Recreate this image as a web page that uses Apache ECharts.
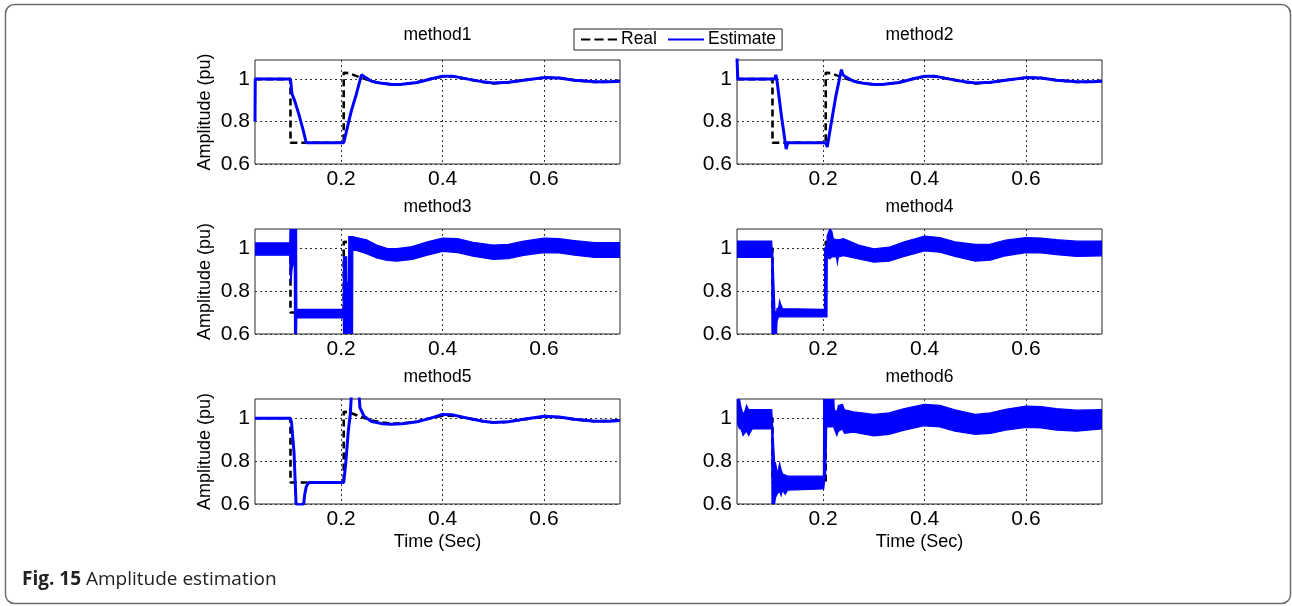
<!DOCTYPE html>
<html>
<head>
<meta charset="utf-8">
<script src="https://cdn.jsdelivr.net/npm/echarts@6/dist/echarts.min.js"></script>
<style>
html,body{margin:0;padding:0;background:#fff;}
#chart{width:1292px;height:606px;}
</style>
</head>
<body>
<div id="chart"></div>
<script>
// ---------- data ----------
const titles = ['method1','method2','method3','method4','method5','method6'];
const xTicks = [0.2, 0.4, 0.6];
const yTicks = [0.6, 0.8, 1];

const realT = [0.03, 0.1, 0.1, 0.205, 0.205, 0.215, 0.235, 0.26, 0.28, 0.3, 0.32, 0.35, 0.38, 0.4, 0.42, 0.45, 0.48, 0.5, 0.53, 0.56, 0.6, 0.63, 0.66, 0.7, 0.73, 0.75];
const realV = [1, 1, 0.7, 0.7, 1.03, 1.028, 1.01, 0.99, 0.98, 0.975, 0.975, 0.985, 1.003, 1.012, 1.012, 1.0, 0.986, 0.98, 0.984, 0.995, 1.007, 1.005, 0.995, 0.986, 0.988, 0.992];

const m1T = [0.03, 0.0305, 0.1, 0.103, 0.108, 0.117, 0.125, 0.131, 0.205, 0.21, 0.22, 0.23, 0.24, 0.245, 0.26, 0.28, 0.3, 0.32, 0.35, 0.38, 0.4, 0.42, 0.45, 0.48, 0.5, 0.53, 0.56, 0.6, 0.63, 0.66, 0.7, 0.73, 0.75];
const m1V = [0.8, 1.0, 1.0, 0.93, 0.9, 0.83, 0.76, 0.7, 0.7, 0.75, 0.85, 0.93, 1.02, 1.012, 0.99, 0.98, 0.975, 0.976, 0.984, 1.003, 1.013, 1.014, 1.0, 0.987, 0.982, 0.985, 0.995, 1.007, 1.005, 0.995, 0.987, 0.988, 0.99];

const m2T = [0.03, 0.0315, 0.104, 0.1067, 0.109, 0.118, 0.127, 0.13, 0.205, 0.208, 0.215, 0.225, 0.232, 0.236, 0.239, 0.245, 0.26, 0.28, 0.3, 0.32, 0.35, 0.38, 0.4, 0.42, 0.45, 0.48, 0.5, 0.53, 0.56, 0.6, 0.63, 0.66, 0.7, 0.73, 0.75];
const m2V = [1.1, 1.0, 1.0, 1.02, 0.99, 0.82, 0.67, 0.7, 0.7, 0.68, 0.78, 0.92, 1.0, 1.045, 1.02, 1.01, 0.99, 0.98, 0.975, 0.976, 0.984, 1.003, 1.013, 1.014, 1.0, 0.987, 0.982, 0.985, 0.995, 1.007, 1.005, 0.995, 0.987, 0.988, 0.99];

const m5T = [0.03, 0.1, 0.102, 0.107, 0.111, 0.118, 0.126, 0.128, 0.131, 0.136, 0.205, 0.209, 0.214, 0.218, 0.221, 0.234, 0.237, 0.245, 0.26, 0.28, 0.3, 0.32, 0.35, 0.38, 0.4, 0.42, 0.45, 0.48, 0.5, 0.53, 0.56, 0.6, 0.63, 0.66, 0.7, 0.73, 0.75];
const m5V = [1.0, 1.0, 0.98, 0.84, 0.6, 0.595, 0.6, 0.643, 0.68, 0.7, 0.7, 0.79, 0.94, 1.02, 1.15, 1.15, 1.05, 1.01, 0.985, 0.975, 0.972, 0.974, 0.984, 1.003, 1.018, 1.016, 1.0, 0.986, 0.98, 0.984, 0.995, 1.009, 1.006, 0.996, 0.986, 0.986, 0.99];

const m3T  = [0.03, 0.0985, 0.099, 0.101, 0.103, 0.1075, 0.108, 0.112, 0.1125, 0.204, 0.2046, 0.211, 0.2115, 0.2145, 0.215, 0.2225, 0.223, 0.23, 0.25, 0.27, 0.29, 0.31, 0.34, 0.37, 0.4, 0.43, 0.46, 0.5, 0.53, 0.56, 0.6, 0.63, 0.66, 0.7, 0.75];
const m3Lo = [0.968, 0.968, 0.9, 0.84, 0.9, 0.95, 0.55, 0.55, 0.675, 0.675, 0.55, 0.55, 0.55, 0.55, 0.55, 0.55, 0.99, 0.99, 0.975, 0.955, 0.943, 0.94, 0.948, 0.968, 0.985, 0.98, 0.963, 0.948, 0.952, 0.967, 0.98, 0.978, 0.968, 0.957, 0.958];
const m3Hi = [1.025, 1.025, 1.12, 1.12, 1.12, 1.12, 1.12, 1.12, 0.715, 0.715, 0.96, 0.96, 0.84, 0.84, 1.055, 1.055, 1.055, 1.05, 1.04, 1.015, 1.0, 0.998, 1.008, 1.03, 1.048, 1.045, 1.028, 1.015, 1.018, 1.033, 1.047, 1.045, 1.036, 1.026, 1.027];

const m4T  = [0.03, 0.0985, 0.099, 0.1005, 0.105, 0.108, 0.109, 0.112, 0.114, 0.116, 0.12, 0.2025, 0.203, 0.2075, 0.208, 0.213, 0.217, 0.22, 0.226, 0.228, 0.23, 0.24, 0.27, 0.3, 0.33, 0.36, 0.4, 0.43, 0.46, 0.5, 0.53, 0.56, 0.6, 0.63, 0.66, 0.7, 0.75];
const m4Lo = [0.958, 0.958, 0.55, 0.55, 0.55, 0.6, 0.66, 0.68, 0.68, 0.68, 0.68, 0.68, 0.68, 0.68, 0.96, 0.95, 0.96, 0.96, 0.96, 0.93, 0.96, 0.965, 0.95, 0.935, 0.94, 0.962, 0.988, 0.982, 0.962, 0.94, 0.945, 0.965, 0.98, 0.978, 0.97, 0.962, 0.965];
const m4Hi = [1.034, 1.034, 1.0, 0.98, 0.7, 0.7, 0.72, 0.72, 0.755, 0.74, 0.718, 0.715, 1.0, 1.02, 1.06, 1.09, 1.08, 1.045, 1.04, 1.04, 1.04, 1.045, 1.015, 0.997, 1.005, 1.03, 1.057, 1.05, 1.03, 1.018, 1.02, 1.038, 1.05, 1.048, 1.04, 1.033, 1.034];

const m6T  = [0.03, 0.035, 0.038, 0.042, 0.045, 0.049, 0.053, 0.06, 0.0985, 0.099, 0.104, 0.106, 0.11, 0.114, 0.117, 0.12, 0.125, 0.13, 0.2005, 0.201, 0.205, 0.207, 0.221, 0.222, 0.227, 0.23, 0.238, 0.242, 0.26, 0.3, 0.33, 0.36, 0.4, 0.43, 0.46, 0.5, 0.53, 0.56, 0.6, 0.63, 0.66, 0.7, 0.75];
const m6Lo = [0.98, 0.95, 0.95, 0.92, 0.93, 0.94, 0.92, 0.95, 0.95, 0.55, 0.55, 0.63, 0.65, 0.66, 0.64, 0.665, 0.645, 0.665, 0.67, 0.67, 0.75, 0.96, 0.96, 0.95, 0.92, 0.94, 0.95, 0.93, 0.935, 0.918, 0.925, 0.945, 0.965, 0.96, 0.94, 0.925, 0.93, 0.945, 0.957, 0.955, 0.945, 0.94, 0.95];
const m6Hi = [1.12, 1.12, 1.05, 1.02, 1.03, 1.06, 1.04, 1.04, 1.04, 1.02, 0.8, 0.79, 0.74, 0.79, 0.76, 0.74, 0.735, 0.73, 0.73, 1.12, 1.12, 1.12, 1.12, 1.04, 1.03, 1.06, 1.065, 1.04, 1.03, 1.018, 1.025, 1.045, 1.065, 1.06, 1.04, 1.018, 1.025, 1.042, 1.057, 1.055, 1.045, 1.038, 1.04];

// ---------- chart ----------
const FONT = '"Liberation Sans", Arial, Helvetica, sans-serif';
const BLUE = '#0000ff';
const gridBoxes = [
  {left:255, top:60,  width:365, height:104},
  {left:737, top:60,  width:365, height:104},
  {left:255, top:229, width:365, height:105},
  {left:737, top:229, width:365, height:105},
  {left:255, top:399, width:365, height:105},
  {left:737, top:399, width:365, height:105}
];

const zip = (t, v) => t.map((x, i) => [x, v[i]]);

function bandRender(tArr, loArr, hiArr) {
  return function (params, api) {
    if (params.dataIndex !== 0) return null;
    const pts = [];
    for (let i = 0; i < tArr.length; i++) pts.push(api.coord([tArr[i], hiArr[i]]));
    for (let i = tArr.length - 1; i >= 0; i--) pts.push(api.coord([tArr[i], loArr[i]]));
    const cs = params.coordSys;
    const clipped = echarts.graphic.clipPointsByRect(pts, {x: cs.x, y: cs.y, width: cs.width, height: cs.height});
    return {
      type: 'polygon',
      shape: {points: clipped},
      style: {fill: BLUE, stroke: BLUE, lineWidth: 1.2}
    };
  };
}

const grids = gridBoxes.map(g => Object.assign({}, g, {
  show: true, borderColor: '#262626', borderWidth: 1, backgroundColor: '#fff',
  containLabel: false, outerBoundsMode: 'none'
}));

const fmt = v => String(+(+v).toFixed(2));

const xAxes = gridBoxes.map((g, i) => ({
  type: 'value', gridIndex: i, min: 0.03, max: 0.75,
  axisLine: {show: false},
  axisTick: {show: false, customValues: xTicks},
  axisLabel: {customValues: xTicks, fontSize: 21, color: '#000', fontFamily: FONT, margin: 5, formatter: fmt},
  splitLine: {show: true, lineStyle: {color: '#333', width: 1, type: [2, 3]}},
  name: i >= 4 ? 'Time (Sec)' : '',
  nameLocation: 'middle', nameGap: 29,
  nameTextStyle: {fontSize: 18, color: '#000', fontFamily: FONT}
}));

const yAxes = gridBoxes.map((g, i) => ({
  type: 'value', gridIndex: i, min: 0.6, max: 1.09,
  axisLine: {show: false},
  axisTick: {show: false, customValues: yTicks},
  axisLabel: {customValues: yTicks, fontSize: 21, color: '#000', fontFamily: FONT, margin: 5, formatter: fmt},
  splitLine: {show: true, lineStyle: {color: '#333', width: 1, type: [2, 3]}},
  name: (i % 2 === 0) ? 'Amplitude (pu)' : '',
  nameLocation: 'middle', nameGap: 41, nameRotate: 90,
  nameTextStyle: {fontSize: 18, color: '#000', fontFamily: FONT}
}));

const realStyle = {color: '#000', width: 2.6, type: [7, 4]};
const series = [];
for (let i = 0; i < 6; i++) {
  series.push({
    name: 'Real', type: 'line', xAxisIndex: i, yAxisIndex: i,
    data: zip(realT, realV), showSymbol: false, symbol: 'none',
    lineStyle: realStyle, itemStyle: {color: '#000'}, z: 2, animation: false
  });
}
const lineEst = {0: [m1T, m1V], 1: [m2T, m2V], 4: [m5T, m5V]};
const bandEst = {2: [m3T, m3Lo, m3Hi], 3: [m4T, m4Lo, m4Hi], 5: [m6T, m6Lo, m6Hi]};
for (let i = 0; i < 6; i++) {
  if (lineEst[i]) {
    const [t, v] = lineEst[i];
    series.push({
      name: 'Estimate', type: 'line', xAxisIndex: i, yAxisIndex: i,
      data: zip(t, v), showSymbol: false, symbol: 'none', clip: true,
      lineStyle: {color: BLUE, width: 3}, itemStyle: {color: BLUE}, z: 3, animation: false
    });
  } else {
    const [t, lo, hi] = bandEst[i];
    series.push({
      name: 'Estimate', type: 'custom', xAxisIndex: i, yAxisIndex: i,
      data: t.map((x, k) => [x, lo[k], hi[k]]),
      encode: {x: 0, y: [1, 2]},
      renderItem: bandRender(t, lo, hi), clip: true, silent: true,
      itemStyle: {color: BLUE}, z: 3, animation: false
    });
  }
}

const titleGraphics = gridBoxes.map((g, i) => ({
  type: 'text', x: g.left + g.width / 2, y: g.top - (i < 2 ? 25 : 22),
  style: {text: titles[i], align: 'center', verticalAlign: 'middle',
    fontSize: 17.5, fontFamily: FONT, fill: '#000'}
}));

const option = {
  animation: false,
  backgroundColor: '#fff',
  grid: grids,
  xAxis: xAxes,
  yAxis: yAxes,
  legend: {
    data: [
      {name: 'Real', icon: 'path://M0,0H9V2H0Z M13,0H22V2H13Z M26,0H35V2H26Z'},
      {name: 'Estimate', icon: 'path://M0,0H35V2H0Z'}
    ],
    left: 574, top: 29,
    orient: 'horizontal',
    itemWidth: 36, itemHeight: 3, itemGap: 11,
    padding: [1, 6, 1, 7],
    borderColor: '#222', borderWidth: 1, backgroundColor: '#fff',
    selectedMode: false,
    itemStyle: {borderWidth: 0},
    textStyle: {fontSize: 17.5, color: '#000', fontFamily: FONT, lineHeight: 19, padding: [0, 0, 0, -1]}
  },
  graphic: [
    {type: 'rect', shape: {x: 5.5, y: 4.5, width: 1285, height: 599, r: 9},
     style: {fill: 'none', stroke: '#6b6b6b', lineWidth: 1.5}, z: -10},
    {type: 'text', x: 22, y: 580,
     style: {text: '{b|Fig. 15} Amplitude estimation', verticalAlign: 'middle',
       fontSize: 19, fontFamily: '"Open Sans", sans-serif', fill: '#222',
       rich: {b: {fontWeight: 'bold', fontSize: 19, fontFamily: '"Open Sans", sans-serif', fill: '#222'}}}}
  ].concat(titleGraphics),
  series: series
};

const chart = echarts.init(document.getElementById('chart'), null, {renderer: 'canvas'});
chart.setOption(option);
</script>
</body>
</html>
